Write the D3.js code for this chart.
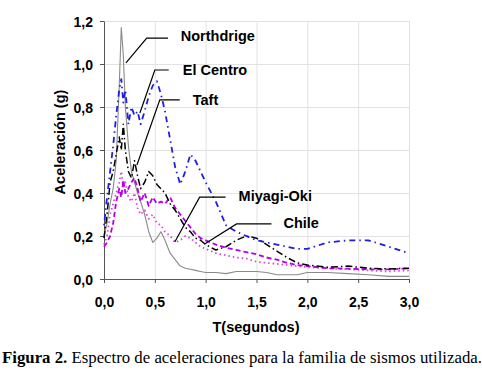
<!DOCTYPE html>
<html>
<head>
<meta charset="utf-8">
<script src="https://cdn.jsdelivr.net/npm/d3@7"></script>
<style>
  html, body { margin: 0; padding: 0; background: #fff; }
  svg { display: block; }
  .tick text { font-family: "Liberation Sans", Arial, sans-serif; font-weight: bold; font-size: 14px; fill: #000; }
  .lbl { font-family: "Liberation Sans", Arial, sans-serif; font-weight: bold; font-size: 14.5px; fill: #000; }
  .cap { font-family: "Liberation Serif", "Times New Roman", serif; font-size: 16.8px; fill: #000; }
</style>
</head>
<body>
<div id="view"></div>
<script>
// periodos (s)
const periods = [0, 0.03, 0.06, 0.09, 0.12, 0.15, 0.17, 0.19, 0.21, 0.24, 0.27, 0.30, 0.33, 0.36,
  0.40, 0.44, 0.48, 0.52, 0.56, 0.60, 0.65, 0.70, 0.75, 0.80, 0.85, 0.90, 0.95, 1.0,
  1.1, 1.2, 1.3, 1.4, 1.5, 1.6, 1.7, 1.8, 1.9, 2.0, 2.2, 2.4, 2.6, 2.8, 3.0];

const northridge = [0.2, 0.26, 0.35, 0.42, 0.55, 0.9, 1.17, 1.04, 0.8, 0.62, 0.5, 0.45, 0.4, 0.36,
  0.3, 0.22, 0.17, 0.19, 0.22, 0.18, 0.12, 0.09, 0.06, 0.05, 0.045, 0.04, 0.035, 0.03,
  0.03, 0.025, 0.035, 0.035, 0.035, 0.03, 0.02, 0.02, 0.02, 0.03, 0.03, 0.025, 0.02, 0.012, 0.012];

const elCentro = [0.25, 0.38, 0.5, 0.62, 0.76, 0.88, 0.93, 0.82, 0.88, 0.72, 0.8, 0.76, 0.78, 0.72,
  0.78, 0.85, 0.9, 0.92, 0.86, 0.78, 0.65, 0.52, 0.44, 0.5, 0.58, 0.55, 0.5, 0.45,
  0.36, 0.25, 0.22, 0.2, 0.18, 0.17, 0.16, 0.15, 0.14, 0.14, 0.17, 0.18, 0.18, 0.15, 0.12];

const taft = [0.19, 0.3, 0.45, 0.5, 0.58, 0.66, 0.6, 0.72, 0.6, 0.5, 0.47, 0.55, 0.48, 0.42,
  0.45, 0.5, 0.48, 0.44, 0.42, 0.4, 0.35, 0.32, 0.28, 0.24, 0.22, 0.19, 0.18, 0.16,
  0.135, 0.15, 0.18, 0.2, 0.19, 0.16, 0.13, 0.1, 0.075, 0.065, 0.055, 0.06, 0.05, 0.047, 0.05];

const miyagi = [0.15, 0.17, 0.2, 0.26, 0.36, 0.42, 0.38, 0.46, 0.4, 0.42, 0.45, 0.47, 0.42, 0.36,
  0.4, 0.34, 0.38, 0.35, 0.36, 0.35, 0.38, 0.33, 0.3, 0.27, 0.24, 0.21, 0.19, 0.18,
  0.16, 0.145, 0.135, 0.125, 0.115, 0.1, 0.09, 0.075, 0.065, 0.06, 0.05, 0.048, 0.045, 0.045, 0.05];

const chile = [0.16, 0.2, 0.3, 0.35, 0.4, 0.45, 0.5, 0.42, 0.45, 0.38, 0.36, 0.4, 0.33, 0.3,
  0.32, 0.28, 0.3, 0.26, 0.25, 0.22, 0.2, 0.17, 0.18, 0.2, 0.19, 0.17, 0.15, 0.14,
  0.12, 0.11, 0.1, 0.095, 0.08, 0.075, 0.07, 0.065, 0.06, 0.055, 0.05, 0.045, 0.04, 0.035, 0.04];

const xTicks = [0, 0.5, 1.0, 1.5, 2.0, 2.5, 3.0];
const yTicks = [0, 0.2, 0.4, 0.6, 0.8, 1.0, 1.2];

// etiquetas: [texto, T texto, a texto, T codo, T fin horizontal, a horizontal, T punta, a punta]
const labels = [
  ["Northdrige", 0.755, 1.105, 0.42, 0.63, 1.12, 0.216, 1.005],
  ["El Centro", 0.775, 0.95, 0.50, 0.637, 0.972, 0.353, 0.772],
  ["Taft", 0.873, 0.81, 0.549, 0.745, 0.833, 0.324, 0.53],
  ["Miyagi-Oki", 1.324, 0.365, 0.941, 1.196, 0.381, 0.696, 0.172],
  ["Chile", 1.765, 0.235, 1.304, 1.647, 0.256, 0.99, 0.163]
];

const series = [
  { name: "Northridge", values: northridge, color: "#8a8a8a", width: 1.1, dash: null },
  { name: "Chile", values: chile, color: "#dd44dd", width: 1.8, dash: "1.5,3" },
  { name: "Miyagi-Oki", values: miyagi, color: "#b400e6", width: 1.8, dash: "5,3" },
  { name: "Taft", values: taft, color: "#000000", width: 1.5, dash: "7,3,1.5,3" },
  { name: "El Centro", values: elCentro, color: "#1f1fe0", width: 1.8, dash: "1.5,4,6,4" }
];

const W = 482, H = 378;
const M = { t: 21, l: 104 };
const w = 305, h = 258;

const svg = d3.select("#view").append("svg").attr("width", W).attr("height", H);
const g = svg.append("g").attr("transform", `translate(${M.l},${M.t})`);

const x = d3.scaleLinear().domain([0, 3]).range([0, w]);
const y = d3.scaleLinear().domain([0, 1.2]).range([h, 0]);

// rejilla
g.append("g")
  .call(d3.axisLeft(y).tickValues(yTicks).tickSize(-w).tickFormat(""))
  .call(s => s.select(".domain").remove())
  .selectAll("line").attr("stroke", "#e2e2e2");
g.append("g")
  .attr("transform", `translate(0,${h})`)
  .call(d3.axisBottom(x).tickValues(xTicks).tickSize(-h).tickFormat(""))
  .call(s => s.select(".domain").remove())
  .selectAll("line").attr("stroke", "#e2e2e2");

// ejes
const fmt = v => d3.format(".1f")(v).replace(".", ",");
const yAx = g.append("g")
  .call(d3.axisLeft(y).tickValues(yTicks).tickFormat(fmt).tickSize(4).tickSizeOuter(0).tickPadding(7));
yAx.select(".domain").attr("stroke", "#555");
yAx.selectAll(".tick line").attr("stroke", "#555");
yAx.selectAll(".tick text").attr("dy", "0.36em");

const xAx = g.append("g")
  .attr("transform", `translate(0,${h})`)
  .call(d3.axisBottom(x).tickValues(xTicks).tickFormat(fmt).tickSize(4).tickSizeOuter(0).tickPadding(14));
xAx.select(".domain").attr("stroke", "#555");
xAx.selectAll(".tick line").attr("stroke", "#555");

// curvas
const line = d3.line()
  .x((d, i) => x(periods[i]))
  .y(d => y(d));

g.selectAll("path.serie")
  .data(series)
  .join("path")
  .attr("class", "serie")
  .attr("fill", "none")
  .attr("stroke", d => d.color)
  .attr("stroke-width", d => d.width)
  .attr("stroke-dasharray", d => d.dash)
  .attr("stroke-linejoin", "round")
  .attr("d", d => line(d.values));

// etiquetas con lineas guia
const ann = g.selectAll("g.ann").data(labels).join("g").attr("class", "ann");
ann.append("path")
  .attr("fill", "none")
  .attr("stroke", "#000")
  .attr("stroke-width", 1.2)
  .attr("d", d => `M${x(d[4])},${y(d[5])}L${x(d[3])},${y(d[5])}L${x(d[6])},${y(d[7])}`);
ann.append("text")
  .attr("class", "lbl")
  .attr("x", d => x(d[1]))
  .attr("y", d => y(d[2]))
  .text(d => d[0]);

// titulos de ejes
g.append("text")
  .attr("class", "lbl")
  .attr("font-size", "14px")
  .attr("transform", "rotate(-90)")
  .attr("x", -h / 2 + 8)
  .attr("y", -39)
  .attr("text-anchor", "middle")
  .text("Aceleración (g)");

g.append("text")
  .attr("class", "lbl")
  .attr("x", 152)
  .attr("y", h + 53)
  .attr("text-anchor", "middle")
  .text("T(segundos)");

// pie de figura
const cap = svg.append("text").attr("class", "cap").attr("x", 2).attr("y", 363);
cap.append("tspan").attr("font-weight", "bold").text("Figura 2.");
cap.append("tspan").text(" Espectro de aceleraciones para la familia de sismos utilizada.");
</script>
</body>
</html>
